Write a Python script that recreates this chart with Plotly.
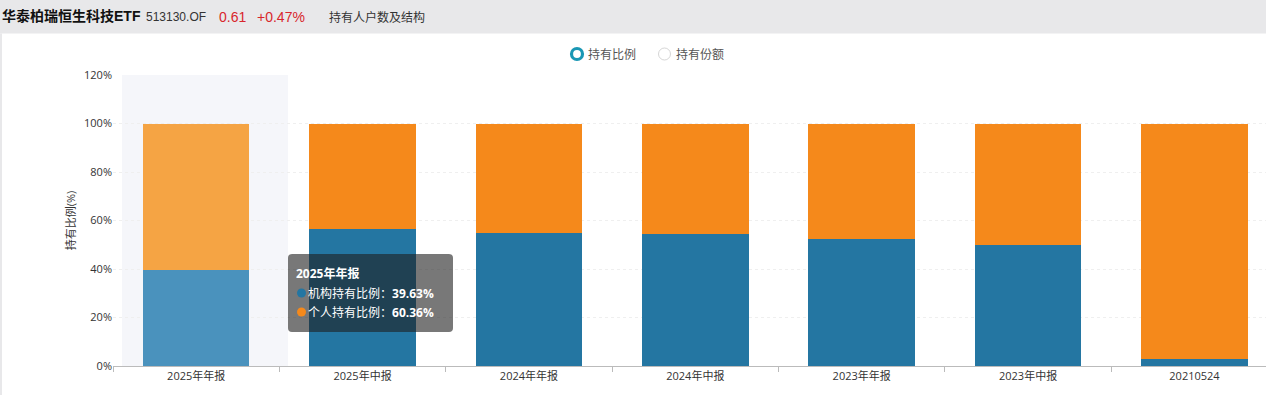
import plotly.graph_objects as go

categories = ["2025年年报", "2025年中报", "2024年年报", "2024年中报", "2023年年报", "2023年中报", "20210524"]
institution_pct = [39.63, 56.5, 54.9, 54.5, 52.4, 49.9, 2.9]
individual_pct = [60.36, 43.5, 45.1, 45.5, 47.6, 50.1, 97.1]
y_ticks = [0, 20, 40, 60, 80, 100, 120]
y_tick_labels = ["0%", "20%", "40%", "60%", "80%", "100%", "120%"]

W, H = 1266, 395
L, R_, T, B = 113, 0, 75, 29
PW = W - L - R_
PH = H - T - B

def px(x):
    return (x - L) / PW

def py(y):
    return (H - B - y) / PH

FONT = "Open Sans, Noto Sans CJK SC, sans-serif"
HFONT = "Liberation Sans, Arial, Noto Sans CJK SC, sans-serif"

blue = ["#4a92bd"] + ["#2476a2"] * 6
orange = ["#f5a444"] + ["#f5891b"] * 6

fig = go.Figure()
fig.add_trace(go.Bar(x=categories, y=institution_pct, name="机构持有比例",
                     marker=dict(color=blue, line=dict(width=0)), width=0.64))
fig.add_trace(go.Bar(x=categories, y=individual_pct, name="个人持有比例",
                     marker=dict(color=orange, line=dict(width=0)), width=0.64))

shapes = []
# header band
shapes.append(dict(type="rect", xref="paper", yref="paper", x0=px(0), x1=px(W), y0=py(33.5), y1=py(0),
                   fillcolor="#e8e8ea", line=dict(width=0), layer="below"))
shapes.append(dict(type="rect", xref="paper", yref="paper", x0=px(0), x1=px(2), y0=py(H), y1=py(33.5),
                   fillcolor="#e8e8ea", line=dict(width=0), layer="below"))
# hover shading
shapes.append(dict(type="rect", xref="x", yref="y", x0=-0.446, x1=0.552, y0=0, y1=120,
                   fillcolor="#f5f6fa", line=dict(width=0), layer="below"))
# tooltip box
x0, x1, y0, y1, r = 288, 453, 254, 332, 4
path = (f"M {x0+r},{y0} L {x1-r},{y0} Q {x1},{y0} {x1},{y0+r} L {x1},{y1-r} Q {x1},{y1} {x1-r},{y1} "
        f"L {x0+r},{y1} Q {x0},{y1} {x0},{y1-r} L {x0},{y0+r} Q {x0},{y0} {x0+r},{y0} Z")

def conv_path(p):
    res = []
    for t in p.split(" "):
        if "," in t:
            a, b = t.split(",")
            res.append(f"{px(float(a)):.5f},{py(float(b)):.5f}")
        else:
            res.append(t)
    return " ".join(res)

shapes.append(dict(type="path", xref="paper", yref="paper", path=conv_path(path),
                   fillcolor="rgba(30,30,30,0.6)", line=dict(width=0), layer="above"))
# tooltip dots
for yy, col in [(293, "#2476a2"), (312, "#f5891b")]:
    shapes.append(dict(type="circle", xref="paper", yref="paper", x0=px(297), x1=px(306),
                       y0=py(yy + 4.5), y1=py(yy - 4.5), fillcolor=col, line=dict(width=0), layer="above"))
# legend radios
shapes.append(dict(type="circle", xref="paper", yref="paper", x0=px(571.5), x1=px(582.5),
                   y0=py(59.5), y1=py(48.5), fillcolor="white", line=dict(color="#1a97b4", width=3.2)))
shapes.append(dict(type="circle", xref="paper", yref="paper", x0=px(658.5), x1=px(670.5),
                   y0=py(60), y1=py(48), fillcolor="white", line=dict(color="#d6d6d6", width=1)))

annotations = []
def txt(x, y, s, size=12, color="#333", xanchor="left", bold=False, family=FONT):
    annotations.append(dict(xref="paper", yref="paper", x=px(x), y=py(y), text=(f"<b>{s}</b>" if bold else s),
                            showarrow=False, xanchor=xanchor, yanchor="middle", borderpad=0,
                            font=dict(size=size, color=color, family=family)))

txt(1, 16, "华泰柏瑞恒生科技ETF", size=14, color="#111", bold=True, family=HFONT)
txt(145, 17, "513130.OF", size=12, color="#333", family=HFONT)
txt(218, 17, "0.61", size=14, color="#d8262c", family=HFONT)
txt(256, 17, "+0.47%", size=14, color="#d8262c", family=HFONT)
txt(328, 17, "持有人户数及结构", size=12, color="#333", family=HFONT)

txt(587, 54, "持有比例", size=12, color="#555")
txt(675, 54, "持有份额", size=12, color="#555")

txt(295, 273, "2025年年报", size=12, color="white", bold=True)
txt(307, 293, "机构持有比例：<b>39.63%</b>", size=12, color="white")
txt(307, 312, "个人持有比例：<b>60.36%</b>", size=12, color="white")

fig.update_layout(
    width=W, height=H,
    margin=dict(l=L, r=R_, t=T, b=B, pad=0),
    barmode="stack",
    bargap=0.36,
    showlegend=False,
    paper_bgcolor="white",
    plot_bgcolor="white",
    font=dict(family=FONT, size=11, color="#333"),
    shapes=shapes,
    annotations=annotations,
    xaxis=dict(type="category", range=[-0.5, 6.43], tickson="boundaries", ticks="outside",
               ticklen=5, tickcolor="#bbb", showline=True, linecolor="#bbb", linewidth=1,
               showgrid=False, tickfont=dict(size=11, color="#333"), fixedrange=True),
    yaxis=dict(range=[0, 120], tickvals=y_ticks, ticktext=y_tick_labels, showgrid=True,
               gridcolor="#efefef", griddash="dot", gridwidth=1, zeroline=False, showline=False,
               ticks="", tickfont=dict(size=11, color="#333"), fixedrange=True,
               title=dict(text="持有比例(%)", font=dict(size=11, color="#333"), standoff=6)),
)

fig.write_html("out.html", config={"displayModeBar": False, "staticPlot": True})

with open("out.html", "r", encoding="utf-8") as f:
    html = f.read()
html = html.replace("<head>", "<head><style>html,body{margin:0;padding:0;overflow:hidden;}</style>", 1)
with open("out.html", "w", encoding="utf-8") as f:
    f.write(html)
